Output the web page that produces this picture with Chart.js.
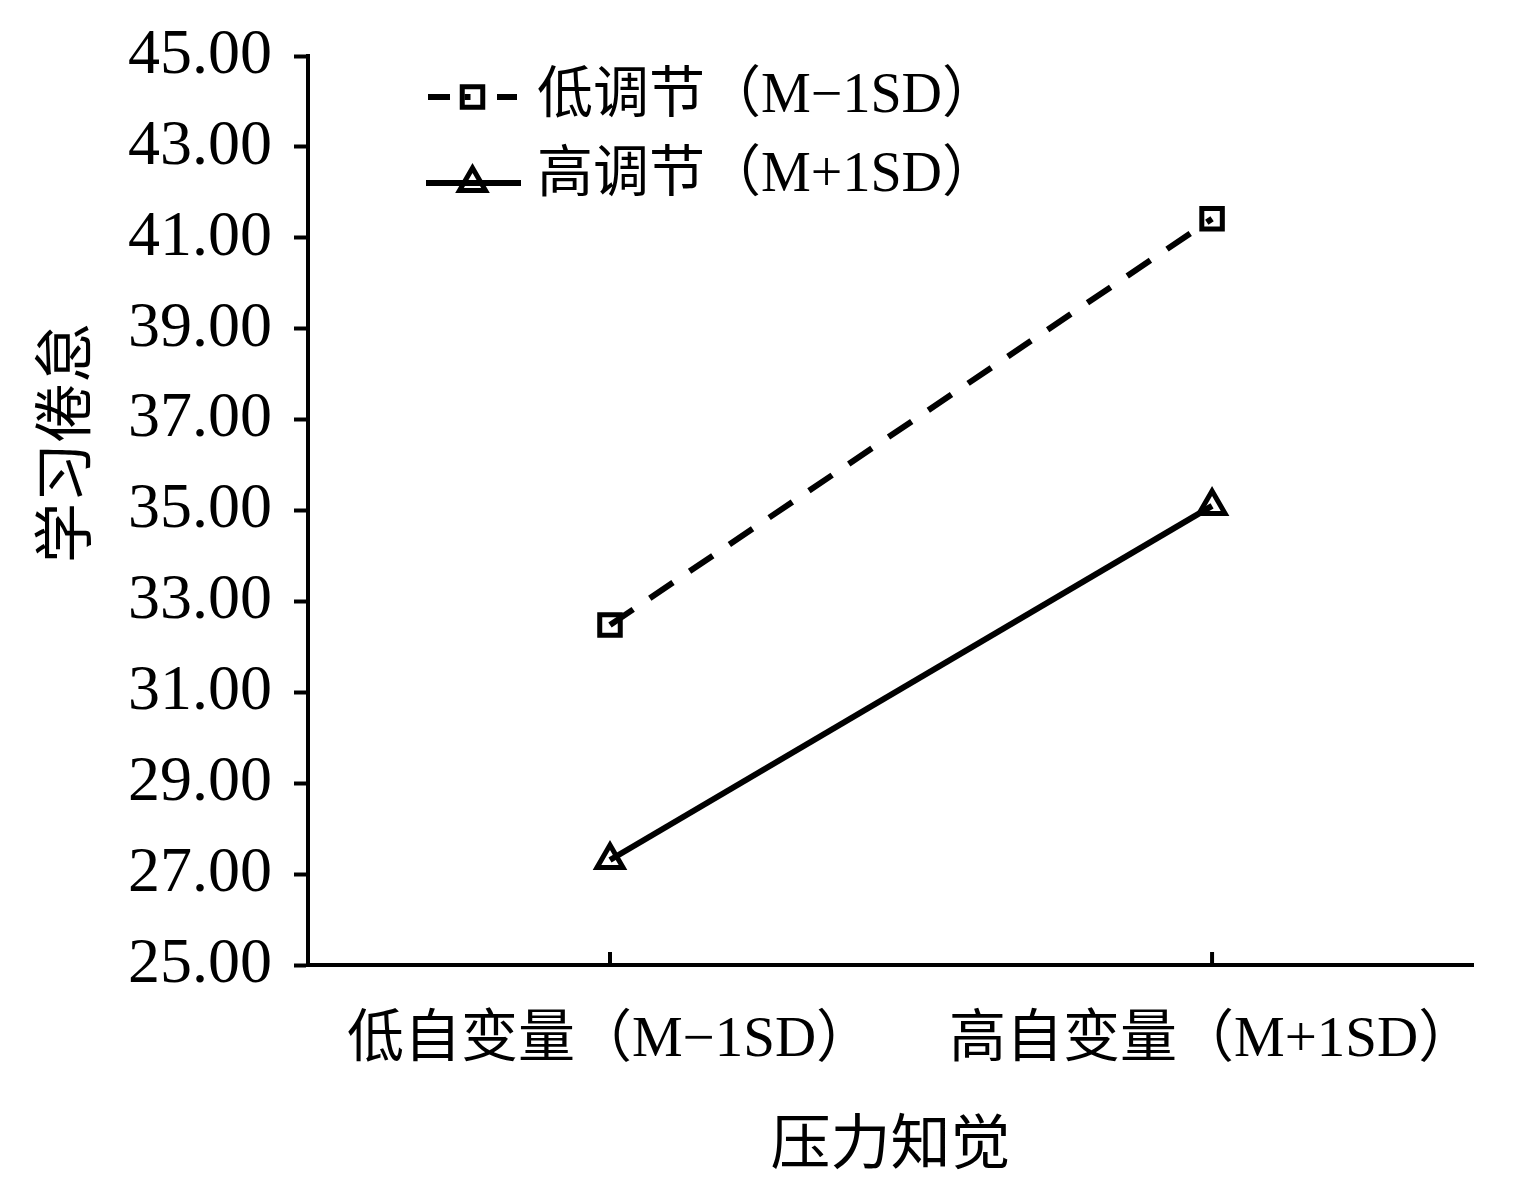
<!DOCTYPE html>
<html>
<head>
<meta charset="utf-8">
<script src="https://cdn.jsdelivr.net/npm/chart.js@4.4.1/dist/chart.umd.min.js"></script>
<style>
    html, body { margin: 0; padding: 0; background: #fff; }
    #wrap { width: 1513px; height: 1199px; }
</style>
</head>
<body>
<div id="wrap"><canvas id="chart"></canvas></div>
<script>
// Chart data
const categories = ['低自变量（M−1SD）', '高自变量（M+1SD）'];
const seriesNames = ['低调节（M−1SD）', '高调节（M+1SD）'];
const lowRegulation = [32.48, 41.42];
const highRegulation = [27.31, 35.10];
const yTickValues = [25, 27, 29, 31, 33, 35, 37, 39, 41, 43, 45];
const xTitle = '压力知觉';
const yTitle = '学习倦怠';

const FONT = '"Liberation Serif", "Noto Sans CJK SC", serif';

function toPoints(values) {
    return values.map((v, i) => ({ x: i, y: v }));
}

// inward tick marks on the x axis
const xInnerTicks = {
    id: 'xInnerTicks',
    afterDraw(chart) {
        const scale = chart.scales.x;
        const ctx = chart.ctx;
        ctx.save();
        ctx.strokeStyle = '#000';
        ctx.lineWidth = 4;
        scale.ticks.forEach((t, i) => {
            const px = scale.getPixelForTick(i);
            ctx.beginPath();
            ctx.moveTo(px, scale.top);
            ctx.lineTo(px, scale.top - 13);
            ctx.stroke();
        });
        ctx.restore();
    }
};

// vertical y title, placed like the original
const yTitlePlugin = {
    id: 'yTitlePlugin',
    afterDraw(chart) {
        const ctx = chart.ctx;
        ctx.save();
        ctx.translate(70, 443);
        ctx.rotate(-Math.PI / 2);
        ctx.font = '60px ' + FONT;
        ctx.fillStyle = '#000';
        ctx.textAlign = 'center';
        ctx.textBaseline = 'middle';
        ctx.fillText(yTitle, 0, 0);
        ctx.restore();
    }
};

// legend with line + marker samples, inside the plot
const innerLegend = {
    id: 'innerLegend',
    afterDraw(chart) {
        const ctx = chart.ctx;
        const area = chart.chartArea;
        const rows = [{ line: 97, text: 97 }, { line: 183, text: 176 }];
        chart.data.datasets.forEach((ds, i) => {
            const x0 = area.left + 118;
            const x1 = area.left + 213;
            const yl = rows[i].line;
            const xm = (x0 + x1) / 2 - 1;
            ctx.save();
            ctx.strokeStyle = '#000';
            ctx.lineWidth = ds.borderWidth;
            if (ds.borderDash && ds.borderDash.length) {
                // dash - marker - dash
                ctx.beginPath();
                ctx.moveTo(x0 + 2, yl);
                ctx.lineTo(x0 + 24, yl);
                ctx.moveTo(xm - 8, yl);
                ctx.lineTo(xm - 2, yl);
                ctx.moveTo(x1 - 24, yl);
                ctx.lineTo(x1 - 4, yl);
                ctx.stroke();
            } else {
                ctx.beginPath();
                ctx.moveTo(x0, yl);
                ctx.lineTo(x1, yl);
                ctx.stroke();
            }
            ctx.fillStyle = 'rgba(0,0,0,0)';
            ctx.lineWidth = ds.pointBorderWidth;
            Chart.helpers.drawPoint(ctx, {
                pointStyle: ds.pointStyle,
                radius: ds.pointRadius,
                rotation: 0,
                borderWidth: ds.pointBorderWidth
            }, xm, yl);
            ctx.fillStyle = '#000';
            ctx.font = '56px ' + FONT;
            ctx.textBaseline = 'middle';
            ctx.textAlign = 'left';
            ctx.fillText(ds.label, area.left + 229, rows[i].text);
            ctx.restore();
        });
    }
};

new Chart(document.getElementById('chart'), {
    type: 'line',
    data: {
        datasets: [
            {
                label: seriesNames[0],
                data: toPoints(lowRegulation),
                borderColor: '#000',
                borderWidth: 6,
                borderDash: [28, 20],
                pointStyle: 'rect',
                pointRadius: 14.5,
                pointBorderWidth: 5,
                pointBackgroundColor: 'rgba(0,0,0,0)',
                pointBorderColor: '#000'
            },
            {
                label: seriesNames[1],
                data: toPoints(highRegulation),
                borderColor: '#000',
                borderWidth: 6,
                pointStyle: 'triangle',
                pointRadius: 15,
                pointBorderWidth: 5,
                pointBackgroundColor: 'rgba(0,0,0,0)',
                pointBorderColor: '#000'
            }
        ]
    },
    options: {
        responsive: true,
        maintainAspectRatio: false,
        animation: false,
        layout: { padding: { left: 0, right: 40, top: 56, bottom: 0 } },
        plugins: {
            legend: { display: false },
            tooltip: { enabled: false }
        },
        scales: {
            x: {
                type: 'linear',
                min: -0.5016,
                max: 1.4334,
                afterBuildTicks: (scale) => {
                    scale.ticks = categories.map((_, i) => ({ value: i }));
                },
                afterFit: (scale) => {
                    scale.height = 234;
                    scale.paddingLeft = 0;
                    scale.paddingRight = 0;
                },
                grid: { display: true, drawOnChartArea: false, drawTicks: false },
                border: { display: true, color: '#000', width: 4 },
                ticks: {
                    color: '#000',
                    padding: 42,
                    maxRotation: 0,
                    autoSkip: false,
                    font: { family: FONT, size: 57 },
                    callback: (v) => categories[v]
                },
                title: {
                    display: true,
                    text: xTitle,
                    color: '#000',
                    font: { family: FONT, size: 60 },
                    padding: { top: 0, bottom: 15 }
                }
            },
            y: {
                min: 25,
                max: 45,
                afterBuildTicks: (scale) => {
                    scale.ticks = yTickValues.map(v => ({ value: v }));
                },
                afterFit: (scale) => {
                    scale.width = 308;
                    scale.paddingTop = 0;
                    scale.paddingBottom = 0;
                },
                grid: {
                    display: true,
                    drawOnChartArea: false,
                    drawTicks: true,
                    tickLength: 14,
                    tickWidth: 4,
                    tickColor: '#000'
                },
                border: { display: true, color: '#000', width: 4 },
                ticks: {
                    color: '#000',
                    padding: 22,
                    font: { family: FONT, size: 64 },
                    callback: (v) => v.toFixed(2)
                }
            }
        }
    },
    plugins: [xInnerTicks, yTitlePlugin, innerLegend]
});
</script>
</body>
</html>
